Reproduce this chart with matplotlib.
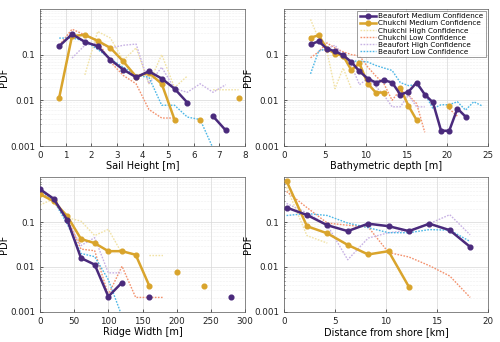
import numpy as np
import matplotlib
matplotlib.use("Agg")
import matplotlib.pyplot as plt

nan = np.nan

# ---- panel 1: sail height
sail_x = np.arange(0.75, 8.0, 0.5)
sail_bm = [0.153, 0.28, 0.19, 0.153, 0.077, 0.047, 0.032, 0.043, 0.030, 0.018, 0.0089, nan, 0.0045, 0.0022, nan]
sail_cm = [0.0115, 0.255, 0.27, 0.20, 0.14, 0.071, 0.033, 0.040, 0.023, 0.0038, nan, 0.0038, nan, nan, 0.0115]
sail_ch = [nan, nan, 0.036, 0.32, 0.23, 0.075, 0.14, 0.023, 0.10, 0.019, 0.034, nan, 0.017, 0.017, 0.017]
sail_cl = [0.16, 0.36, 0.27, 0.20, 0.069, 0.035, 0.023, 0.0063, 0.0041, 0.0041, nan, nan, nan, nan, nan]
sail_bh = [nan, 0.084, 0.16, 0.18, 0.14, 0.16, 0.17, 0.023, 0.053, 0.018, 0.015, 0.023, 0.015, 0.022, nan]
sail_bl = [0.23, 0.23, 0.20, 0.13, 0.081, 0.053, 0.035, 0.032, 0.0078, 0.0078, 0.0043, 0.0038, 0.0009, nan, nan]

# ---- panel 2: bathymetric depth
bath_x = np.arange(3.25, 24.5, 1.0)
bath_bm = [0.168, 0.195, 0.135, 0.118, 0.097, 0.069, 0.043, 0.030, 0.0245, 0.0275, 0.0245,
           0.0134, 0.0153, 0.0245, 0.0134, 0.009, 0.00216, 0.00216, 0.0066, 0.0044, nan, nan]
bath_cm = [0.235, 0.264, 0.135, 0.105, 0.094, 0.046, 0.064, 0.0233, 0.0148, 0.0148, nan,
           0.0187, 0.0076, 0.0037, nan, nan, nan, 0.0076, nan, nan, nan, nan]
bath_ch = [0.59, 0.22, 0.12, 0.018, 0.051, 0.018, nan, nan, nan, nan, nan,
           nan, nan, nan, nan, nan, nan, nan, nan, nan, nan, nan]
bath_cl = [0.085, 0.115, 0.18, 0.14, 0.115, 0.10, 0.094, 0.054, 0.034, 0.023, 0.010,
           0.017, 0.013, 0.0085, 0.002, nan, nan, 0.0065, 0.0045, nan, nan, nan]
bath_bh = [nan, 0.12, 0.135, 0.16, 0.097, 0.058, 0.022, 0.030, 0.020, 0.013, 0.0072,
           0.0072, 0.013, 0.0072, 0.0072, nan, nan, nan, nan, nan, nan, nan]
bath_bl = [0.038, 0.12, 0.135, 0.118, 0.082, 0.072, 0.072, 0.069, 0.058, 0.051, 0.045,
           0.0245, 0.021, 0.022, 0.014, 0.0066, 0.008, 0.008, 0.0093, 0.0061, 0.0093, 0.0076]

# ---- panel 3: ridge width
ridge_x = np.arange(0, 300, 20)
ridge_bm = [0.54, 0.33, 0.11, 0.0158, 0.0113, 0.0022, 0.0045, nan, 0.0022, nan, nan, nan, nan, nan, 0.0022]
ridge_cm = [0.42, 0.29, 0.135, 0.042, 0.034, 0.0225, 0.0225, 0.0187, 0.0038, nan, 0.0076, nan, 0.0038, nan, nan]
ridge_ch = [0.24, 0.33, 0.125, 0.105, 0.05, 0.069, 0.02, nan, 0.018, 0.018, nan, nan, nan, nan, nan]
ridge_cl = [0.47, 0.29, 0.12, 0.025, 0.023, 0.0024, 0.0104, 0.0021, 0.0021, 0.0021, nan, nan, nan, nan, nan]
ridge_bh = [0.52, 0.34, 0.105, 0.03, 0.045, 0.0074, 0.0074, nan, nan, nan, nan, nan, nan, nan, nan]
ridge_bl = [0.52, 0.30, 0.09, 0.02, 0.017, 0.0052, 0.0008, nan, nan, nan, nan, nan, nan, nan, nan]

# ---- panel 4: distance from shore
shore_x = np.arange(0.25, 19, 2.0)
shore_bm = [0.21, 0.144, 0.085, 0.063, 0.092, 0.081, 0.063, 0.092, 0.066, 0.028]
shore_cm = [0.82, 0.081, 0.056, 0.031, 0.019, 0.0225, 0.0036, nan, nan, nan]
shore_ch = [0.6, 0.05, 0.034, nan, nan, nan, nan, nan, nan, nan]
shore_cl = [0.48, 0.21, 0.095, 0.085, 0.078, 0.021, 0.0167, 0.0107, 0.0063, 0.0021]
shore_bh = [0.26, 0.16, 0.085, 0.0145, 0.044, 0.058, 0.066, 0.092, 0.146, 0.052]
shore_bl = [0.14, 0.155, 0.14, 0.095, 0.075, 0.058, 0.058, 0.068, 0.066, 0.037]

names = ["Beaufort Medium Confidence", "Chukchi Medium Confidence", "Chukchi High Confidence",
         "Chukchi Low Confidence", "Beaufort High Confidence", "Beaufort Low Confidence"]
colors = ["#4a2a7c", "#d9a42c", "#f1e2a6", "#f3926e", "#c8b2e4", "#4db7e6"]

panels = [
    (sail_x, [sail_bm, sail_cm, sail_ch, sail_cl, sail_bh, sail_bl], "Sail Height [m]", (0, 8), np.arange(0, 9, 1)),
    (bath_x, [bath_bm, bath_cm, bath_ch, bath_cl, bath_bh, bath_bl], "Bathymetric depth [m]", (0, 25), np.arange(0, 26, 5)),
    (ridge_x, [ridge_bm, ridge_cm, ridge_ch, ridge_cl, ridge_bh, ridge_bl], "Ridge Width [m]", (0, 300), np.arange(0, 301, 50)),
    (shore_x, [shore_bm, shore_cm, shore_ch, shore_cl, shore_bh, shore_bl], "Distance from shore [km]", (0, 20), np.arange(0, 21, 5)),
]

# axes boxes in figure fraction: left, bottom, width, height
boxes = [(0.080, 0.573, 0.410, 0.401), (0.568, 0.573, 0.408, 0.401),
         (0.080, 0.088, 0.410, 0.394), (0.568, 0.088, 0.408, 0.394)]

fig = plt.figure(figsize=(5.0, 3.42), dpi=100)

for (x, series, xlab, xl, xt), box in zip(panels, boxes):
    ax = fig.add_axes(box)
    ax.set_yscale("log")
    # dotted low/high confidence lines first, medium confidence on top
    order = [2, 3, 4, 5, 0, 1]
    handles = {}
    for i in order:
        y = np.array(series[i], dtype=float)
        if i < 2:
            h, = ax.plot(x, y, color=colors[i], lw=1.8, marker="o", ms=3.4, zorder=5 - i)
        else:
            h, = ax.plot(x, y, color=colors[i], lw=1.0, ls=(0, (1.2, 1.0)), zorder=2)
        handles[i] = h
    ax.set_xlim(xl)
    ax.set_xticks(xt)
    ax.set_ylim(0.001, 1)
    ax.set_yticks([0.001, 0.01, 0.1])
    ax.set_yticklabels(["0.001", "0.01", "0.1"])
    ax.tick_params(labelsize=6.3, length=2, width=0.5, colors="#222222", which="both", direction="in")
    ax.tick_params(which="minor", length=1)
    ax.grid(True, which="major", color="#d8d8d8", lw=0.5)
    ax.grid(True, which="minor", axis="y", color="#e2e2e2", lw=0.4, ls=":")
    ax.set_axisbelow(True)
    for s in ax.spines.values():
        s.set_linewidth(0.5)
        s.set_color("#555555")
    ax.set_xlabel(xlab, fontsize=7, labelpad=1)
    ax.set_ylabel("PDF", fontsize=7, labelpad=1)
    if xlab.startswith("Bathymetric"):
        leg = ax.legend([handles[i] for i in range(6)], names, loc="upper right", fontsize=5.2,
                        frameon=True, fancybox=False, edgecolor="#555555", borderpad=0.3,
                        labelspacing=0.15, handlelength=2.2, handletextpad=0.4, borderaxespad=0.3)
        leg.get_frame().set_linewidth(0.5)

fig.savefig("out.png", dpi=100)
